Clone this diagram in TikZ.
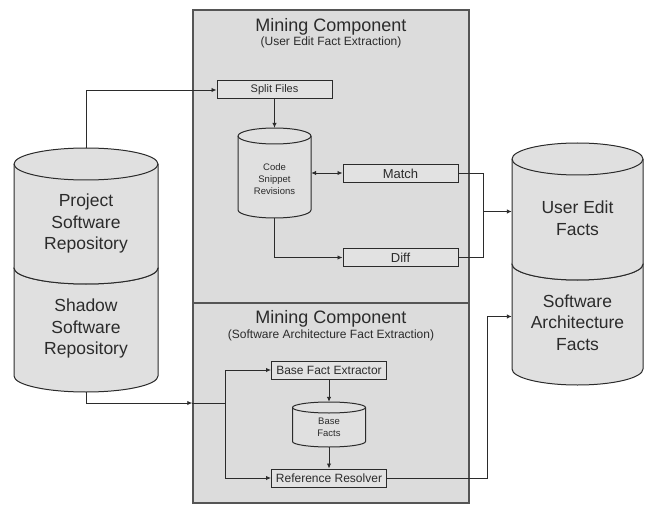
\documentclass[tikz,border=0pt]{standalone}
\usepackage{fontspec}
\setmainfont{Liberation Sans}
\usetikzlibrary{arrows.meta,positioning}

\definecolor{panelgray}{HTML}{DCDCDC}
\definecolor{drumgray}{HTML}{E0E0E0}
\definecolor{boxgray}{HTML}{E2E2E2}
\definecolor{inkgray}{HTML}{2B2B2B}
\definecolor{framegray}{HTML}{555555}

\tikzset{
  panel/.style={draw=framegray, line width=1.5pt, fill=panelgray, inner sep=0pt},
  drumline/.style={draw=inkgray, line width=1pt},
  drumfill/.style={drumline, fill=drumgray},
  stepbox/.style={draw=inkgray, line width=1pt, fill=boxgray, inner sep=0pt,
    minimum width=115pt, minimum height=18pt, text=inkgray,
    font=\fontsize{12}{14}\selectfont},
  bigtext/.style={align=center, text=inkgray, inner sep=0pt,
    font=\fontsize{17.5}{21.5}\selectfont},
  smalltext/.style={align=center, text=inkgray, inner sep=0pt,
    font=\fontsize{9.5}{12}\selectfont},
  title/.style={anchor=base, text=inkgray, inner sep=0pt, font=\fontsize{18}{20}\selectfont},
  subtitle/.style={anchor=base, text=inkgray, inner sep=0pt, font=\fontsize{12}{14}\selectfont},
  conn/.style={draw=inkgray, line width=0.9pt, >={Latex[length=5pt,width=4.5pt]}}
}

% #1 name, #2 centre x, #3 top y, #4 bottom y, #5 x radius, #6 y radius
\newcommand{\drum}[6]{
  \filldraw[drumfill] ({#2-#5},{-(#3+#6)}) -- ({#2-#5},{-(#4-#6)})
    arc[start angle=180, end angle=360, x radius=#5pt, y radius=#6pt]
    -- ({#2+#5},{-(#3+#6)})
    arc[start angle=0, end angle=180, x radius=#5pt, y radius=#6pt] -- cycle;
  \draw[drumline] ({#2-#5},{-(#3+#6)})
    arc[start angle=180, end angle=360, x radius=#5pt, y radius=#6pt];
  \node[inner sep=0pt, minimum width={2*#5pt}, minimum height={(#4-#3)*1pt}]
    (#1) at (#2,{-(#3+#4)/2}) {};
}

\begin{document}
\begin{tikzpicture}[x=1pt, y=1pt]
  \useasboundingbox (0,0) rectangle (645,-505);

  % panels
  \node[panel, minimum width=276pt, minimum height=293pt] (toppanel) at (331,-156.5) {};
  \node[panel, minimum width=276pt, minimum height=200pt] (lowpanel) at (331,-403) {};

  \node[title] (toptitle) at (331,-32) {Mining Component};
  \node[subtitle] (topsub) at (331,-46) {(User Edit Fact Extraction)};
  \node[title] (lowtitle) at (331,-323) {Mining Component};
  \node[subtitle] (lowsub) at (331,-338) {(Software Architecture Fact Extraction)};

  % repositories
  \drum{shadow}{86}{252}{392}{72}{16}
  \drum{proj}{86}{148}{284}{72}{16}
  \node[bigtext] (proj-t) at (86,-223.5) {Project\\Software\\Repository};
  \node[bigtext] (shadow-t) at (86,-328.5) {Shadow\\Software\\Repository};

  \drum{saf}{577.5}{248}{385}{65.5}{16}
  \drum{uef}{577.5}{143}{280}{65.5}{16}
  \node[bigtext] (uef-t) at (577.5,-218) {User Edit\\Facts};
  \node[bigtext] (saf-t) at (577.5,-322.5) {Software\\Architecture\\Facts};

  % user edit facts
  \node[stepbox, font=\fontsize{11}{13}\selectfont] (split) at (274.5,-90) {Split Files};
  \drum{csr}{274.5}{128}{218}{36.5}{8}
  \node[smalltext] (csr-t) at (274.5,-179) {Code\\Snippet\\Revisions};
  \node[stepbox, font=\fontsize{13}{15}\selectfont] (match) at (400.5,-173.5) {Match};
  \node[stepbox, font=\fontsize{13}{15}\selectfont] (diff) at (400.5,-257.5) {Diff};

  % software architecture facts
  \node[stepbox] (bfe) at (329,-370) {Base Fact Extractor};
  \drum{bf}{329}{402}{447}{36.5}{5.5}
  \node[smalltext, font=\fontsize{9.5}{11.5}\selectfont] (bf-t) at (329,-427.5) {Base\\Facts};
  \node[stepbox] (rr) at (329,-478) {Reference Resolver};

  \path (uef.west) ++(-28,0) coordinate (uefjoin);
  \path (saf.west) ++(-24,0) coordinate (safjoin);
  \path (lowpanel.west) ++(33,0) coordinate (extjoin);

  \draw[conn,->] (proj.north) |- (split.west);
  \draw[conn,->] (split.south) -- (csr.north);
  \draw[conn,<->] (csr.east) -- (csr.east -| match.west);
  \draw[conn,->] (csr.south) |- (diff.west);
  \draw[conn] (match.east) -| (uefjoin) |- (diff.east);
  \draw[conn,->] (uefjoin) -- (uef.west);

  \draw[conn,->] (shadow.south) |- (lowpanel.west);
  \draw[conn] (lowpanel.west) -- (extjoin);
  \draw[conn,->] (extjoin) |- (bfe.west);
  \draw[conn,->] (extjoin) |- (rr.west);
  \draw[conn,->] (bfe.south) -- (bf.north);
  \draw[conn,->] (bf.south) -- (rr.north);
  \draw[conn,->] (rr.east) -| (safjoin) -- (saf.west);
\end{tikzpicture}
\end{document}
